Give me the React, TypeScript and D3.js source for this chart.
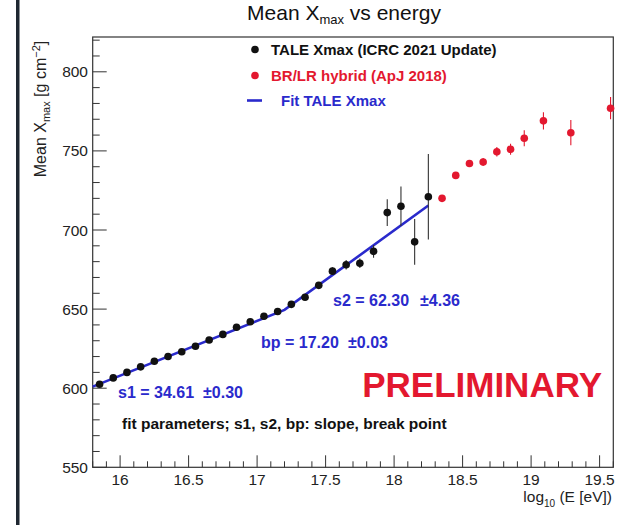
import React from "react";
import * as d3 from "d3";

const W = 641;
const H = 525;

// TALE Xmax (ICRC 2021 update)
const taleLogE = [15.85, 15.95, 16.05, 16.15, 16.25, 16.35, 16.45, 16.55, 16.65, 16.75, 16.85, 16.95, 17.05, 17.15, 17.25, 17.35, 17.45, 17.55, 17.65, 17.75, 17.85, 17.95, 18.05, 18.15, 18.25];
const taleXmax = [602.5, 606.5, 610, 613.5, 617, 620, 623, 626.5, 630.5, 634, 638.5, 642, 645.5, 648.5, 653, 657.5, 665, 674, 678, 679, 686.5, 711, 715, 692.5, 721];
const taleErr = [1, 1, 1, 1, 1, 1, 1, 1, 1, 1, 1, 1, 1, 1, 1.5, 1.5, 2, 2.5, 3, 3, 4, 8.5, 12.5, 14.5, 27];

// BR/LR hybrid (ApJ 2018)
const hybLogE = [18.35, 18.45, 18.55, 18.65, 18.75, 18.85, 18.95, 19.09, 19.29, 19.58];
const hybXmax = [720, 734.5, 742, 743, 749.5, 751, 758, 769, 761.5, 777];
const hybErr = [1.5, 2, 2, 2.5, 3, 3.5, 5, 5.5, 8, 7];

// Broken-line fit vertices
const fitLogE = [15.8, 17.2, 18.25];
const fitXmax = [601, 649.5, 715.5];

const xTicks = [16, 16.5, 17, 17.5, 18, 18.5, 19, 19.5];
const yTicks = [550, 600, 650, 700, 750, 800];

const FONT = "'Liberation Sans', Arial, Helvetica, sans-serif";
const RED = "#e3182f";
const BLUE = "#2a2acc";

export default function App() {
  const x = d3.scaleLinear().domain([15.8, 19.6]).range([92.7, 613.3]);
  const y = d3.scaleLinear().domain([550, 822]).range([467.3, 37]);

  const xMinor = d3.range(158, 197).map((v) => v / 10);
  const yMinor = d3.range(55, 83).map((v) => v * 10);

  const fitLine = d3
    .line<number>()
    .x((_, i) => x(fitLogE[i]))
    .y((d) => y(d));

  const [x0, x1] = x.range();
  const [y0, y1] = y.range();

  return (
    <div style={{ position: "fixed", left: 0, top: 0 }}>
      <svg width={W} height={H} style={{ display: "block", background: "#fff" }} fontFamily={FONT}>
        <rect x={0} y={0} width={W} height={H} fill="#fff" />
        <rect x={16} y={0} width={3.5} height={H} fill="#1f2731" />

        {/* title */}
        <text x={344} y={20} textAnchor="middle" fontSize={21} fill="#111">
          Mean X<tspan fontSize={13} dy={4}>max</tspan>
          <tspan dy={-4}> vs energy</tspan>
        </text>

        {/* frame */}
        <rect x={x0} y={y1} width={x1 - x0} height={y0 - y1} fill="none" stroke="#333" strokeWidth={1.2} />

        {/* y axis ticks */}
        {yMinor.map((v) => (
          <line key={"ym" + v} x1={x0} x2={x0 + (v % 50 === 0 ? 14 : 7)} y1={y(v)} y2={y(v)} stroke="#333" strokeWidth={1} />
        ))}
        {yTicks.map((v) => (
          <text key={"yt" + v} x={88} y={y(v)} dy="0.36em" textAnchor="end" fontSize={15.5} fill="#222">
            {v}
          </text>
        ))}

        {/* x axis ticks */}
        {xMinor.map((v) => (
          <line
            key={"xm" + v}
            x1={x(v)}
            x2={x(v)}
            y1={y0}
            y2={y0 - (Math.abs(v * 2 - Math.round(v * 2)) < 1e-6 ? 12 : 6)}
            stroke="#333"
            strokeWidth={1}
          />
        ))}
        {xTicks.map((v) => (
          <text key={"xt" + v} x={x(v)} y={485} textAnchor="middle" fontSize={15.5} fill="#222">
            {String(v)}
          </text>
        ))}

        {/* axis titles */}
        <text x={612} y={502} textAnchor="end" fontSize={15.5} fill="#222">
          log<tspan fontSize={10} dy={5}>10</tspan>
          <tspan dy={-5}> (E [eV])</tspan>
        </text>
        <text transform={`translate(46,109) rotate(-90)`} textAnchor="middle" fontSize={16} fill="#222">
          Mean X<tspan fontSize={11} dy={4}>max</tspan>
          <tspan dy={-4}> [g cm</tspan>
          <tspan fontSize={11} dy={-6}>−2</tspan>
          <tspan dy={6}>]</tspan>
        </text>

        {/* fit line */}
        <path d={fitLine(fitXmax) || ""} fill="none" stroke={BLUE} strokeWidth={2.6} />

        {/* TALE error bars and markers */}
        {taleLogE.map((e, i) => (
          <line key={"te" + i} x1={x(e)} x2={x(e)} y1={y(taleXmax[i] - taleErr[i])} y2={y(taleXmax[i] + taleErr[i])} stroke="#333" strokeWidth={1.1} />
        ))}
        {taleLogE.map((e, i) => (
          <circle key={"tm" + i} cx={x(e)} cy={y(taleXmax[i])} r={3.8} fill="#111" />
        ))}

        {/* hybrid error bars and markers */}
        {hybLogE.map((e, i) => (
          <line key={"he" + i} x1={x(e)} x2={x(e)} y1={y(hybXmax[i] - hybErr[i])} y2={y(hybXmax[i] + hybErr[i])} stroke={RED} strokeWidth={1.1} />
        ))}
        {hybLogE.map((e, i) => (
          <circle key={"hm" + i} cx={x(e)} cy={y(hybXmax[i])} r={3.8} fill={RED} />
        ))}

        {/* legend */}
        <circle cx={255} cy={49.5} r={3.8} fill="#111" />
        <text x={271} y={55} fontSize={15} fontWeight="bold" fill="#111">
          TALE Xmax (ICRC 2021 Update)
        </text>
        <circle cx={255} cy={75.5} r={3.8} fill={RED} />
        <text x={271} y={81} fontSize={15} fontWeight="bold" fill={RED}>
          BR/LR hybrid (ApJ 2018)
        </text>
        <line x1={247} x2={262} y1={100.5} y2={100.5} stroke={BLUE} strokeWidth={2.6} />
        <text x={281} y={106} fontSize={15} fontWeight="bold" fill={BLUE}>
          Fit TALE Xmax
        </text>

        {/* annotations */}
        <text x={333} y={305.5} fontSize={16} fontWeight="bold" fill={BLUE}>s2 = 62.30</text>
        <text x={460} y={305.5} textAnchor="end" fontSize={16} fontWeight="bold" fill={BLUE}>±4.36</text>
        <text x={261} y={348} fontSize={16} fontWeight="bold" fill={BLUE}>bp = 17.20</text>
        <text x={388} y={348} textAnchor="end" fontSize={16} fontWeight="bold" fill={BLUE}>±0.03</text>
        <text x={118} y={398} fontSize={16} fontWeight="bold" fill={BLUE}>s1 = 34.61</text>
        <text x={243} y={398} textAnchor="end" fontSize={16} fontWeight="bold" fill={BLUE}>±0.30</text>

        <text x={122} y={428.5} fontSize={15.5} fontWeight="bold" fill="#111">
          fit parameters; s1, s2, bp: slope, break point
        </text>

        <text x={602} y={397} textAnchor="end" fontSize={35} fontWeight="bold" fill={RED}>
          PRELIMINARY
        </text>
      </svg>
    </div>
  );
}
